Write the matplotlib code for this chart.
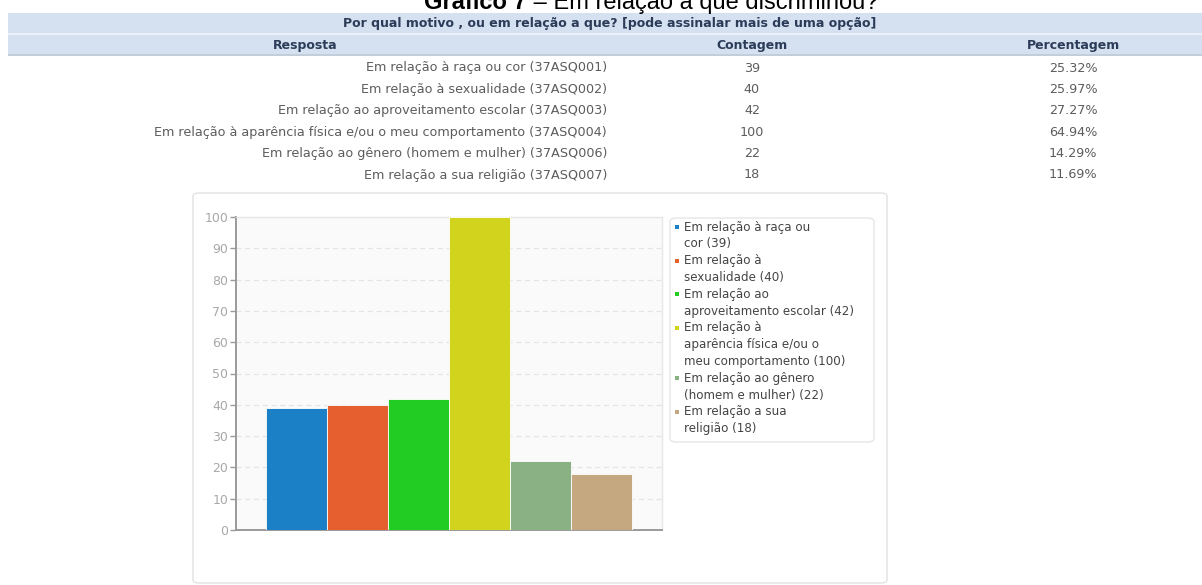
import matplotlib.pyplot as plt
from matplotlib.patches import Rectangle, FancyBboxPatch

# dados do quadro / grafico
categorias = [
    "Em relação à raça ou cor",
    "Em relação à sexualidade",
    "Em relação ao aproveitamento escolar",
    "Em relação à aparência física e/ou o meu comportamento",
    "Em relação ao gênero (homem e mulher)",
    "Em relação a sua religião",
]
codigos = ["37ASQ001", "37ASQ002", "37ASQ003", "37ASQ004", "37ASQ006", "37ASQ007"]
contagem = [39, 40, 42, 100, 22, 18]
percentagem = [25.32, 25.97, 27.27, 64.94, 14.29, 11.69]
legenda = [
    "Em relação à raça ou\ncor",
    "Em relação à\nsexualidade",
    "Em relação ao\naproveitamento escolar",
    "Em relação à\naparência física e/ou o\nmeu comportamento",
    "Em relação ao gênero\n(homem e mulher)",
    "Em relação a sua\nreligião",
]
cores = ["#1b80c6", "#e6602f", "#22cc22", "#d2d31c", "#89b184", "#c5a880"]
yticks = list(range(0, 101, 10))

W, H = 1202, 585
fig = plt.figure(figsize=(W / 100, H / 100), dpi=100)
fig.patch.set_facecolor("white")


def fx(px):
    return px / W


def fy(py):
    return 1 - py / H


def caixa(x0, y0, x1, y1, **kw):
    fig.patches.append(Rectangle((fx(x0), fy(y1)), fx(x1) - fx(x0), (y1 - y0) / H,
                                 transform=fig.transFigure, **kw))


# titulo cortado no topo
fig.text(fx(527), fy(9), "Gráfico 7", fontsize=17, fontweight="bold",
         family="Liberation Sans", ha="right", va="baseline")
fig.text(fx(527), fy(9), " – Em relação a que discriminou?", fontsize=17,
         family="Liberation Sans", ha="left", va="baseline")

# cabecalho do quadro
caixa(8, 13, W, 33, facecolor="#d5e1f1", edgecolor="none", zorder=-2)
caixa(8, 33, W, 34.5, facecolor="#eaf1f9", edgecolor="none", zorder=-2)
caixa(8, 34.5, W, 55, facecolor="#d5e1f1", edgecolor="none", zorder=-2)
caixa(8, 54, W, 55.5, facecolor="#c3cedb", edgecolor="none", zorder=-2)
azul = "#2c3c58"
fig.text(fx(610), fy(23), "Por qual motivo , ou em relação a que? [pode assinalar mais de uma opção]",
         fontsize=9, fontweight="bold", color=azul, ha="center", va="center")
fig.text(fx(305), fy(45), "Resposta", fontsize=9, fontweight="bold", color=azul, ha="center", va="center")
fig.text(fx(752), fy(45), "Contagem", fontsize=9, fontweight="bold", color=azul, ha="center", va="center")
fig.text(fx(1073), fy(45), "Percentagem", fontsize=9, fontweight="bold", color=azul, ha="center", va="center")

cinza = "#5c5c5c"
for i in range(len(categorias)):
    y = 68 + 21.4 * i
    fig.text(fx(607), fy(y), f"{categorias[i]} ({codigos[i]})", fontsize=9.2, color=cinza,
             ha="right", va="center")
    fig.text(fx(752), fy(y), str(contagem[i]), fontsize=9.2, color=cinza, ha="center", va="center")
    fig.text(fx(1073), fy(y), f"{percentagem[i]:.2f}%", fontsize=9.2, color=cinza,
             ha="center", va="center")

# cartao do grafico (atras dos eixos)
fig.patches.append(FancyBboxPatch((fx(193), fy(583)), fx(887) - fx(193), (583 - 193) / H,
                                  boxstyle="round,pad=0,rounding_size=0.005",
                                  transform=fig.transFigure, facecolor="white",
                                  edgecolor="#e2e2e2", linewidth=1, zorder=-1))

ax = fig.add_axes([fx(236), fy(530), fx(662) - fx(236), (530 - 217) / H])
ax.set_zorder(2)
ax.set_facecolor("#fafafa")
x = list(range(len(contagem)))
ax.bar(x, contagem, width=1.0, color=cores, edgecolor="white", linewidth=0.6, zorder=3)
ax.set_xlim(-1, 6)
ax.set_ylim(0, 100)
ax.set_yticks(yticks)
ax.set_xticks([])
ax.grid(axis="y", color="#e4e4e4", linestyle=(0, (4, 3)), linewidth=0.9, zorder=0)
ax.tick_params(axis="y", colors="#999999", labelcolor="#a8a8a8", labelsize=9, length=4, width=1, pad=1.5)
for lado in ("top", "right"):
    ax.spines[lado].set_color("#e6e6e6")
    ax.spines[lado].set_linewidth(1)
for lado in ("left", "bottom"):
    ax.spines[lado].set_color("#9a9a9a")
    ax.spines[lado].set_linewidth(1.4)

# legenda
fig.patches.append(FancyBboxPatch((fx(670), fy(442)), fx(874) - fx(670), (442 - 218) / H,
                                  boxstyle="round,pad=0,rounding_size=0.006",
                                  transform=fig.transFigure, facecolor="white",
                                  edgecolor="#e6e6e6", linewidth=1, zorder=3))
linha = 0
for i in range(len(legenda)):
    partes = f"{legenda[i]} ({contagem[i]})".split("\n")
    y0 = 227 + 16.8 * linha
    caixa(675, y0 - 2, 679, y0 + 2, facecolor=cores[i], edgecolor="none", zorder=4)
    for p in partes:
        fig.text(fx(684), fy(227 + 16.8 * linha), p, fontsize=8.6, color="#444444",
                 ha="left", va="center", zorder=5)
        linha += 1

fig.savefig("out.png", dpi=100)
